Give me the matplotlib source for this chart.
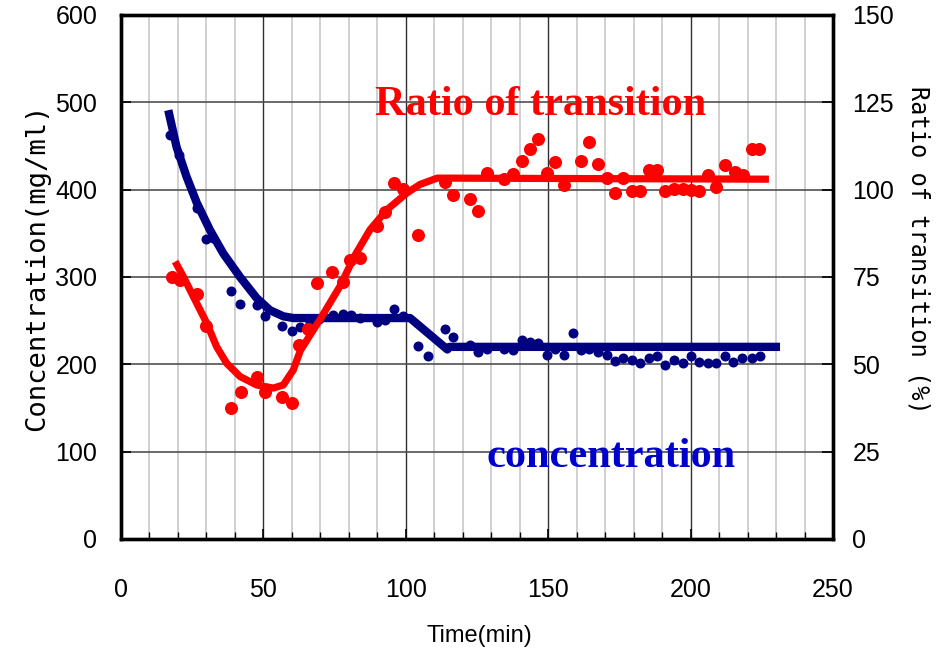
import matplotlib
matplotlib.use("Agg")
import matplotlib.pyplot as plt
from matplotlib.ticker import MultipleLocator

# Measured concentration (mg/ml) against time (min)
conc_time = [17.2, 20.2, 26.6, 30.0, 32.4, 38.6, 41.8, 47.6, 50.6, 56.6,
             60.0, 62.9, 66.4, 69.5, 74.5, 77.8, 80.6, 83.9, 89.8, 92.7,
             95.9, 98.9, 104.4, 107.7, 113.8, 116.6, 122.5, 125.5, 128.4, 134.5,
             137.8, 140.7, 143.6, 146.5, 149.7, 152.4, 155.6, 158.6, 161.5, 164.4,
             167.6, 170.5, 173.5, 176.4, 179.3, 182.2, 185.5, 188.3, 191.0, 194.2,
             197.2, 200.0, 203.0, 206.2, 208.9, 212.0, 215.0, 218.0, 221.4, 224.3]
conc_value = [463, 440, 379, 343, 345, 284, 269, 268, 255, 244,
              238, 243, 247, 252, 257, 258, 257, 253, 249, 251,
              263, 255, 221, 210, 240, 231, 222, 214, 217, 217,
              216, 228, 226, 224, 211, 218, 211, 236, 216, 218,
              214, 211, 204, 207, 205, 201, 207, 209, 199, 205,
              202, 209, 203, 202, 202, 209, 203, 207, 207, 209]

# Measured ratio of transition (%) against time (min)
ratio_time = [17.8, 20.7, 26.8, 30.0, 38.6, 42.0, 47.9, 50.6, 56.6, 60.0,
              62.6, 65.8, 68.7, 74.0, 77.8, 80.5, 83.9, 89.8, 92.7, 95.9,
              98.9, 104.4, 113.6, 116.5, 122.5, 125.3, 128.4, 134.5, 137.8, 140.7,
              143.6, 146.5, 149.7, 152.4, 155.6, 161.5, 164.4, 167.6, 170.6, 173.5,
              176.4, 179.3, 182.2, 185.5, 188.3, 191.0, 194.2, 197.2, 200.0, 203.0,
              206.2, 208.9, 212.0, 215.6, 218.5, 221.4, 224.1]
ratio_value = [75.0, 74.0, 70.0, 61.0, 37.4, 42.2, 46.5, 42.0, 40.7, 38.9,
               55.5, 60.0, 73.4, 76.5, 73.7, 80.0, 80.4, 89.6, 93.7, 101.8,
               100.1, 87.0, 102.3, 98.5, 97.3, 94.0, 104.9, 103.0, 104.5, 108.3,
               111.6, 114.5, 104.7, 107.8, 101.4, 108.3, 113.6, 107.4, 103.3, 99.0,
               103.3, 99.5, 99.5, 105.7, 105.7, 99.5, 100.1, 100.1, 100.0, 99.5,
               104.2, 100.9, 107.0, 105.2, 104.2, 111.6, 111.6]

# Trend lines drawn through each series
conc_fit_time = [16.6, 19.5, 23.0, 26.6, 31.2, 35.9, 41.8, 47.6, 52.3, 57.0,
                 60.5, 101.5, 114.6, 115.3, 231.4]
conc_fit_value = [491, 449, 415, 385, 354, 327, 300, 276, 262, 255,
                  253, 253, 217, 220, 220]
ratio_fit_time = [19.0, 21.9, 25.4, 30.1, 33.6, 37.1, 41.8, 47.6, 53.5, 57.0,
                  60.5, 63.0, 70.0, 77.0, 82.0, 87.4, 93.3, 100.3, 105.0, 111.0,
                  116.0, 227.5]
ratio_fit_value = [79.4, 75.1, 69.4, 61.8, 55.0, 50.3, 46.5, 44.1, 43.2, 44.1,
                   48.4, 54.0, 63.0, 72.5, 81.0, 88.5, 94.2, 99.0, 101.5, 103.3,
                   103.3, 103.0]

x_ticks = [0, 50, 100, 150, 200, 250]
conc_ticks = [0, 100, 200, 300, 400, 500, 600]
ratio_ticks = [0, 25, 50, 75, 100, 125, 150]

NAVY = "#000080"
RED = "#ff0000"
tick_font = ["Liberation Sans Narrow", "Liberation Sans", "DejaVu Sans"]
label_font = ["DejaVu Sans Mono"]
serif_font = ["Liberation Serif", "DejaVu Serif"]

W, H = 942, 656
fig = plt.figure(figsize=(W / 100, H / 100), dpi=100)
ax = fig.add_axes([121 / W, 1 - 539 / H, (833 - 121) / W, (539 - 15) / H])
ax2 = ax.twinx()

ax.set_xlim(0, 250)
ax.set_ylim(0, 600)
ax2.set_ylim(0, 150)
ax.set_xticks(x_ticks)
ax.xaxis.set_minor_locator(MultipleLocator(10))
ax.set_yticks(conc_ticks)
ax2.set_yticks(ratio_ticks)

# grid: light minor verticals, dark major lines
ax.grid(which="minor", axis="x", color="#c8c8c8", lw=1.2)
ax.grid(which="major", axis="x", color="#303030", lw=1.0)
ax.grid(which="major", axis="y", color="#505050", lw=1.2)
ax.set_axisbelow(True)

# concentration: trend line then points
ax.plot(conc_fit_time, conc_fit_value, color=NAVY, lw=6,
        solid_capstyle="butt", solid_joinstyle="round", zorder=3)
ax.plot(conc_time, conc_value, "o", color=NAVY, ms=7.2, mec="none", zorder=4)

# ratio of transition: trend line then points
ax2.plot(ratio_fit_time, ratio_fit_value, color=RED, lw=5.2,
         solid_capstyle="butt", solid_joinstyle="round", zorder=3)
ax2.plot(ratio_time, ratio_value, "o", color=RED, ms=9.4, mec="none", zorder=4)

for a in (ax, ax2):
    for s in a.spines.values():
        s.set_linewidth(2.4)
        s.set_color("black")

ax.tick_params(axis="y", direction="in", length=7, width=1.2, pad=17,
               labelsize=18, left=True, right=False)
ax.tick_params(axis="x", which="major", direction="in", length=7, width=1.2,
               pad=28, labelsize=18)
ax.tick_params(axis="x", which="minor", direction="in", length=5, width=1.0)
ax2.tick_params(axis="y", direction="in", length=8, width=1.2, pad=14,
                labelsize=18)
for lab in ax.get_xticklabels() + ax.get_yticklabels() + ax2.get_yticklabels():
    lab.set_family(tick_font)

fig.text(479 / W, 1 - 636 / H, "Time(min)", ha="center", va="center",
         fontsize=17, family=tick_font)
fig.text(37 / W, 1 - 267 / H, "Concentration(mg/ml)", rotation=90,
         ha="center", va="center", fontsize=19.5, family=label_font)
fig.text(918 / W, 1 - 250 / H, "Ratio of transition (%)", rotation=270,
         ha="center", va="center", fontsize=17, family=label_font)

fig.text(375 / W, 1 - 115 / H, "Ratio of transition", ha="left",
         va="baseline", fontsize=30.5, fontweight="bold", family=serif_font,
         color=RED)
fig.text(487 / W, 1 - 467 / H, "concentration", ha="left", va="baseline",
         fontsize=30.5, fontweight="bold", family=serif_font, color="#0000cc")

fig.savefig("out.png", dpi=100)
